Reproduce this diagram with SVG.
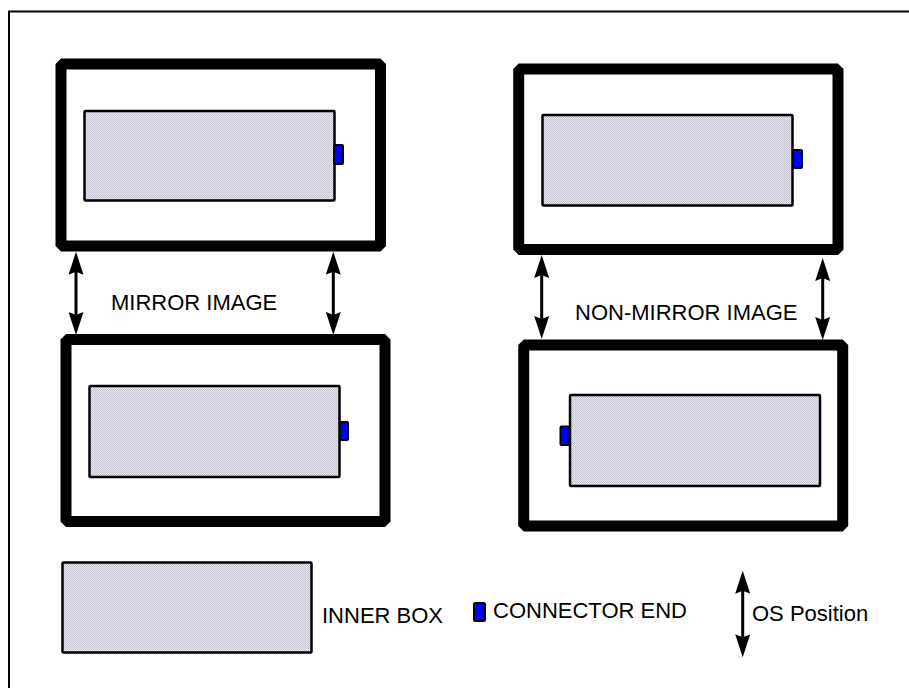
<svg xmlns="http://www.w3.org/2000/svg" width="909" height="688" viewBox="0 0 909 688">
<style>
.outer{fill:none;stroke:#000;stroke-width:11;stroke-linejoin:bevel}
.inner{fill:url(#dots);stroke:#000;stroke-width:2.5}
.conn{fill:#0000ff;stroke:#000;stroke-width:2}
.arr{fill:none;stroke:#000;stroke-width:3;marker-start:url(#head);marker-end:url(#head)}
.lbl{font-family:"Liberation Sans",Arial,sans-serif;font-size:22px;fill:#000}
</style>
<defs>
<pattern id="dots" width="2" height="2" patternUnits="userSpaceOnUse">
<rect width="2" height="2" fill="#e8e8f0"/>
<rect width="1" height="1" fill="#c4c4d0"/>
<rect x="1" y="1" width="1" height="1" fill="#c4c4d0"/>
</pattern>
<marker id="head" markerUnits="userSpaceOnUse" markerWidth="23" markerHeight="15" viewBox="0 0 23 15" refX="8" refY="7.5" orient="auto-start-reverse">
<path d="M0,0 L23,7.5 L0,15 L3,7.5 z" fill="#000"/>
</marker>
</defs>
<rect x="9" y="11.5" width="1000" height="1000" fill="none" stroke="#000" stroke-width="2"/>
<g id="mirror-top">
<rect class="outer" x="61" y="64" width="319.5" height="182"/>
<rect class="inner" x="84.5" y="111" width="250" height="89.5" rx="1"/>
<rect class="conn" x="334" y="145" width="9" height="19" rx="1"/>
</g>
<g id="mirror-bottom">
<rect class="outer" x="66" y="339.5" width="319" height="182"/>
<rect class="inner" x="89.5" y="386" width="250" height="91" rx="1"/>
<rect class="conn" x="340" y="422" width="8" height="18" rx="1"/>
</g>
<g id="nonmirror-top">
<rect class="outer" x="518.7" y="69" width="319.3" height="180.5"/>
<rect class="inner" x="542.5" y="115" width="250" height="90.5" rx="1"/>
<rect class="conn" x="793" y="150" width="9" height="18" rx="1"/>
</g>
<g id="nonmirror-bottom">
<rect class="outer" x="523.7" y="345" width="319" height="181"/>
<rect class="inner" x="570" y="395" width="250" height="91" rx="1"/>
<rect class="conn" x="560.5" y="426.5" width="9" height="18.5" rx="1"/>
</g>
<g id="legend-inner">
<rect class="inner" x="62.5" y="562.5" width="249" height="90" rx="1"/>
<text class="lbl" x="322" y="623">INNER BOX</text>
</g>
<g id="legend-connector">
<rect class="conn" x="474" y="603" width="11" height="18" rx="1.5"/>
<text class="lbl" x="493" y="618">CONNECTOR END</text>
</g>
<g id="legend-os">
<text class="lbl" x="752" y="621">OS Position</text>
</g>
<g id="labels">
<text class="lbl" x="111" y="310">MIRROR IMAGE</text>
<text class="lbl" x="575" y="320">NON-MIRROR IMAGE</text>
</g>
<g id="connectors">
<line class="arr" x1="76" y1="266.7" x2="76" y2="320"/>
<line class="arr" x1="333.3" y1="266.7" x2="333.3" y2="320"/>
<line class="arr" x1="541.7" y1="270" x2="541.7" y2="324"/>
<line class="arr" x1="822.7" y1="273" x2="822.7" y2="325"/>
<line class="arr" x1="742.7" y1="585.7" x2="742.7" y2="642.3"/>
</g>
</svg>
